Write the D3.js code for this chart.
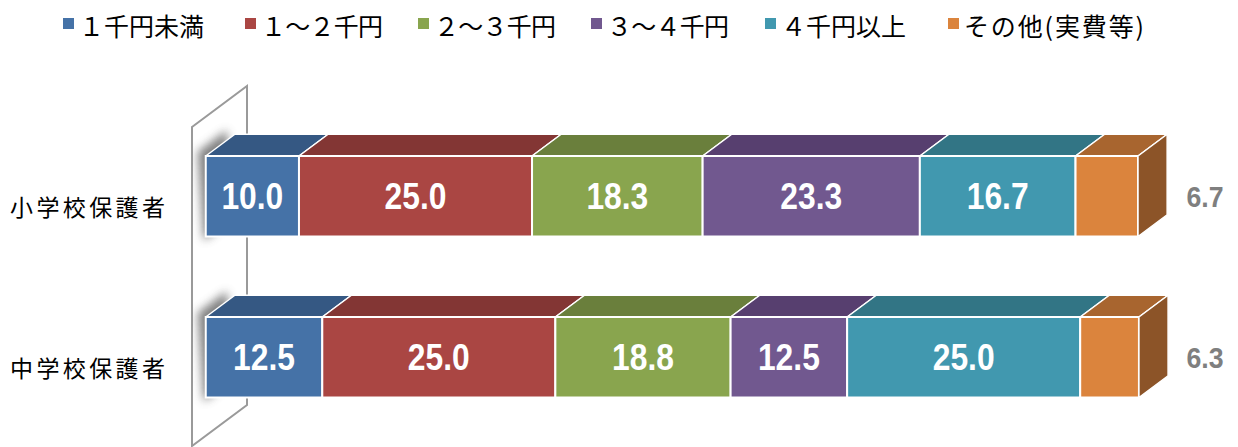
<!DOCTYPE html>
<html><head><meta charset="utf-8">
<script src="https://cdn.jsdelivr.net/npm/d3@7"></script>
<style>
html,body{margin:0;padding:0;background:#fff;}
svg{display:block;}
</style></head>
<body>
<svg id="chart" width="1238" height="447"></svg>
<script>
const categories = ["小学校保護者", "中学校保護者"];
const seriesNames = ["１千円未満", "１～２千円", "２～３千円", "３～４千円", "４千円以上", "その他(実費等)"];
const elementary = [10.0, 25.0, 18.3, 23.3, 16.7, 6.7];
const juniorHigh = [12.5, 25.0, 18.8, 12.5, 25.0, 6.3];
const values = [elementary, juniorHigh];

const frontColors = ["#4572A7", "#AA4643", "#89A54E", "#71588F", "#4198AF", "#DB843D"];
const topColors   = ["#355883", "#833634", "#6A7F3C", "#573F6F", "#327585", "#A8652F"];
const sideColors  = ["#2E4C72", "#722F2D", "#5C6E34", "#4B3760", "#2B6674", "#8C5428"];

const svg = d3.select("#chart");
const font = "'Noto Sans CJK JP','Noto Sans',sans-serif";

// 3D geometry
const wallFrontX = 192, wallDX = 55, wallDY = -41;
const fStart = 0.25, fEnd = 0.78;
const x = d3.scaleLinear().domain([0, 100]).range([wallFrontX + wallDX * fStart, 1138]);
const y = d3.scaleBand().domain(categories).range([115.75, 437.75]).paddingInner(0.5).paddingOuter(0.25);
const dx = wallDX * (fEnd - fStart), dy = wallDY * (fEnd - fStart);

// Wall
const wallTopFront = 127, wallBotFront = 446;
const wallPts = [[wallFrontX, wallTopFront],[wallFrontX + wallDX, wallTopFront + wallDY],
                 [wallFrontX + wallDX, wallBotFront + wallDY],[wallFrontX, wallBotFront]];
const defs = svg.append("defs");
defs.append("filter").attr("id","blur").attr("x","-50%").attr("y","-50%").attr("width","200%").attr("height","200%")
  .append("feGaussianBlur").attr("stdDeviation", 5);
defs.append("clipPath").attr("id","wallclip").append("polygon").attr("points", wallPts.map(p=>p.join(",")).join(" "));

svg.append("polygon").attr("points", wallPts.map(p=>p.join(",")).join(" "))
  .attr("fill","#fff").attr("stroke","#9a9a9a").attr("stroke-width",2);

// shadows on wall
const shadowG = svg.append("g").attr("clip-path","url(#wallclip)");
categories.forEach((c) => {
  const y0 = y(c), y1 = y(c) + y.bandwidth();
  const x0 = x(0);
  const pts = [[x0-8, y0-4],[x0+dx-8, y0+dy-4],[x0+dx-2, y1+dy+4],[x0-2, y1+4]];
  shadowG.append("polygon").attr("points", pts.map(p=>p.join(",")).join(" "))
    .attr("fill","#6a6a6a").attr("opacity",0.85).attr("filter","url(#blur)");
});

// Bars
categories.forEach((c, ci) => {
  const vals = values[ci];
  let cum = 0;
  const segs = vals.map((v, i) => { const s = {i, v, a: cum, b: cum + v}; cum += v; return s; });
  const g = svg.append("g");
  const y0 = y(c), y1 = y(c) + y.bandwidth();
  segs.forEach(s => {
    const xa = x(s.a), xb = x(s.b);
    g.append("polygon")
      .attr("points", [[xa,y0],[xa+dx,y0+dy],[xb+dx,y0+dy],[xb,y0]].map(p=>p.join(",")).join(" "))
      .attr("fill", topColors[s.i]).attr("stroke","#fff").attr("stroke-width",1.5).attr("stroke-linejoin","round");
    g.append("rect").attr("x", xa).attr("y", y0).attr("width", xb - xa).attr("height", y1 - y0)
      .attr("fill", frontColors[s.i]).attr("stroke","#fff").attr("stroke-width",2);
  });
  const last = segs[segs.length-1];
  const xe = x(last.b);
  g.append("polygon")
    .attr("points", [[xe,y0],[xe+dx,y0+dy],[xe+dx,y1+dy],[xe,y1]].map(p=>p.join(",")).join(" "))
    .attr("fill", sideColors[last.i]).attr("stroke","#fff").attr("stroke-width",1.5).attr("stroke-linejoin","round");

  const cy = y0 + y.bandwidth()/2;
  segs.forEach(s => {
    const isLast = s.i === segs.length - 1;
    const cx = isLast ? 1205 : (x(s.a) + x(s.b)) / 2;
    const fs = isLast ? 29 : 37;
    const base = cy + fs * 0.716 / 2;
    g.append("text")
      .attr("transform", `translate(${cx},${base}) scale(${isLast?0.92:0.86},1)`)
      .attr("text-anchor","middle")
      .attr("font-family","'Liberation Sans',Arial,sans-serif")
      .attr("font-weight","bold")
      .attr("font-size", fs)
      .attr("fill", isLast ? "#7f7f7f" : "#fff")
      .text(s.v.toFixed(1));
  });

  svg.append("text")
    .attr("x", 10).attr("y", cy + 10)
    .attr("dominant-baseline","central")
    .attr("font-family", font).attr("font-size", 23)
    .attr("textLength", 155).attr("lengthAdjust","spacing")
    .attr("fill","#000")
    .text(c);
});

// Legend
const legendX = [63, 245, 418, 591, 765, 948];
const legendW = [125, 122, 122, 122, 125, 180];
const lg = svg.append("g");
seriesNames.forEach((n, i) => {
  lg.append("rect").attr("x", legendX[i]).attr("y", 18).attr("width", 11).attr("height", 11)
    .attr("fill", frontColors[i]);
  lg.append("text").attr("x", legendX[i] + 16).attr("y", 25)
    .attr("dominant-baseline","central")
    .attr("font-family", font).attr("font-size", 25).attr("fill","#000")
    .attr("textLength", legendW[i]).attr("lengthAdjust","spacing")
    .text(n);
});
</script>
</body></html>
